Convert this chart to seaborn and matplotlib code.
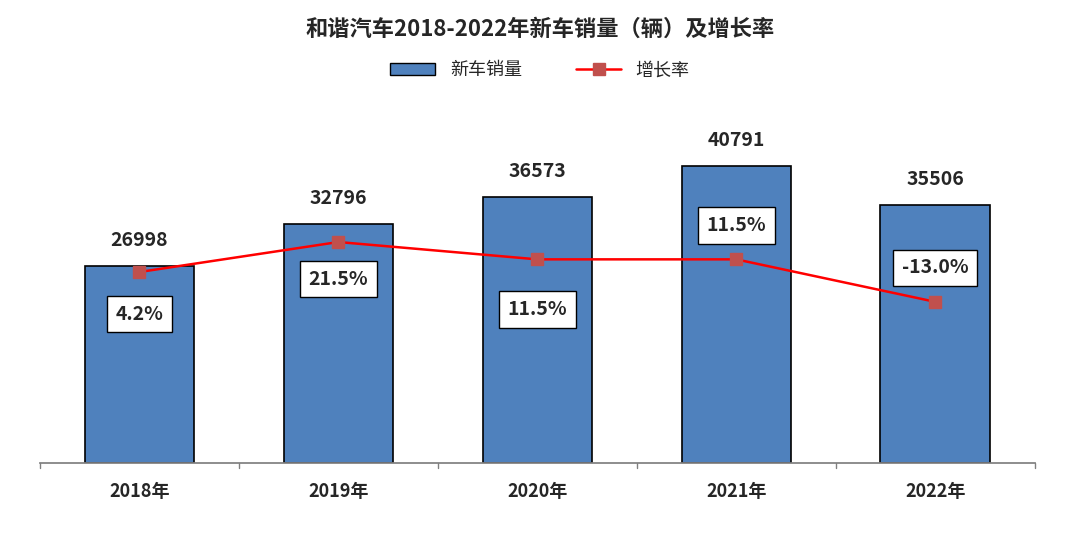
import matplotlib
matplotlib.use("Agg")
import matplotlib.pyplot as plt
import numpy as np
import pandas as pd
import seaborn as sns
from matplotlib.patches import Patch
from matplotlib.lines import Line2D

years = ["2018年", "2019年", "2020年", "2021年", "2022年"]
sales = [26998, 32796, 36573, 40791, 35506]
growth = [4.2, 21.5, 11.5, 11.5, -13.0]
label_offsets = [-42, -37, -50, 34, 34]  # px offset of rate boxes from points

sns.set_theme(style="white")
plt.rcParams["font.family"] = ["Noto Sans CJK SC", "DejaVu Sans"]

BAR = "#4F81BD"
LINE = "#FF0000"
MARK = "#C0504D"

fig = plt.figure(figsize=(10.8, 5.4), dpi=100)
ax = fig.add_axes([0.037, 0.1426, 0.921, 0.674])
df = pd.DataFrame({"year": years, "sales": sales})
sns.barplot(data=df, x="year", y="sales", ax=ax, color=BAR, width=0.55,
            edgecolor="black", linewidth=1.2, saturation=1)
ax.set_ylim(0, 50000)
ax.set_xlim(-0.5, 4.5)
ax.set_xlabel(""); ax.set_ylabel("")
ax.set_yticks([])
for s in ["top", "right", "left"]:
    ax.spines[s].set_visible(False)
ax.spines["bottom"].set_color("#808080")
ax.set_xticks(np.arange(5))
ax.set_xticklabels(years, fontsize=13, fontweight="bold")
ax.tick_params(axis="x", length=0, pad=14)
for b in np.arange(-0.5, 5, 1):
    ax.plot([b, b], [0, -700], color="#808080", lw=1, clip_on=False)
for i, v in enumerate(sales):
    ax.text(i, v + 2200, str(v), ha="center", va="bottom",
            fontsize=14, fontweight="bold")

ax2 = ax.twinx()
ax2.plot(np.arange(5), growth, color=LINE, lw=1.8, marker="s",
         markersize=9, markerfacecolor=MARK, markeredgecolor=MARK)
ax2.set_ylim(-106, 104)
ax2.set_yticks([])
for s in ax2.spines.values():
    s.set_visible(False)
for i, g in enumerate(growth):
    ax2.annotate(f"{g:.1f}%", (i, g), xytext=(0, label_offsets[i]),
                 textcoords="offset pixels", ha="center", va="center",
                 fontsize=14, fontweight="bold",
                 bbox=dict(boxstyle="square,pad=0.45", fc="white", ec="black", lw=1))

fig.text(0.5, 0.945, "和谐汽车2018-2022年新车销量（辆）及增长率", ha="center",
         va="center", fontsize=16, fontweight="bold")
handles = [Patch(facecolor=BAR, edgecolor="black", label="新车销量"),
           Line2D([0], [0], color=LINE, marker="s", markerfacecolor=MARK,
                  markeredgecolor=MARK, markersize=8, lw=1.8, label="增长率")]
fig.legend(handles=handles, loc="center", bbox_to_anchor=(0.5, 0.87), ncol=2,
           frameon=False, fontsize=13, handlelength=2.5, columnspacing=3)

fig.savefig("out.png", dpi=100, facecolor="white")
